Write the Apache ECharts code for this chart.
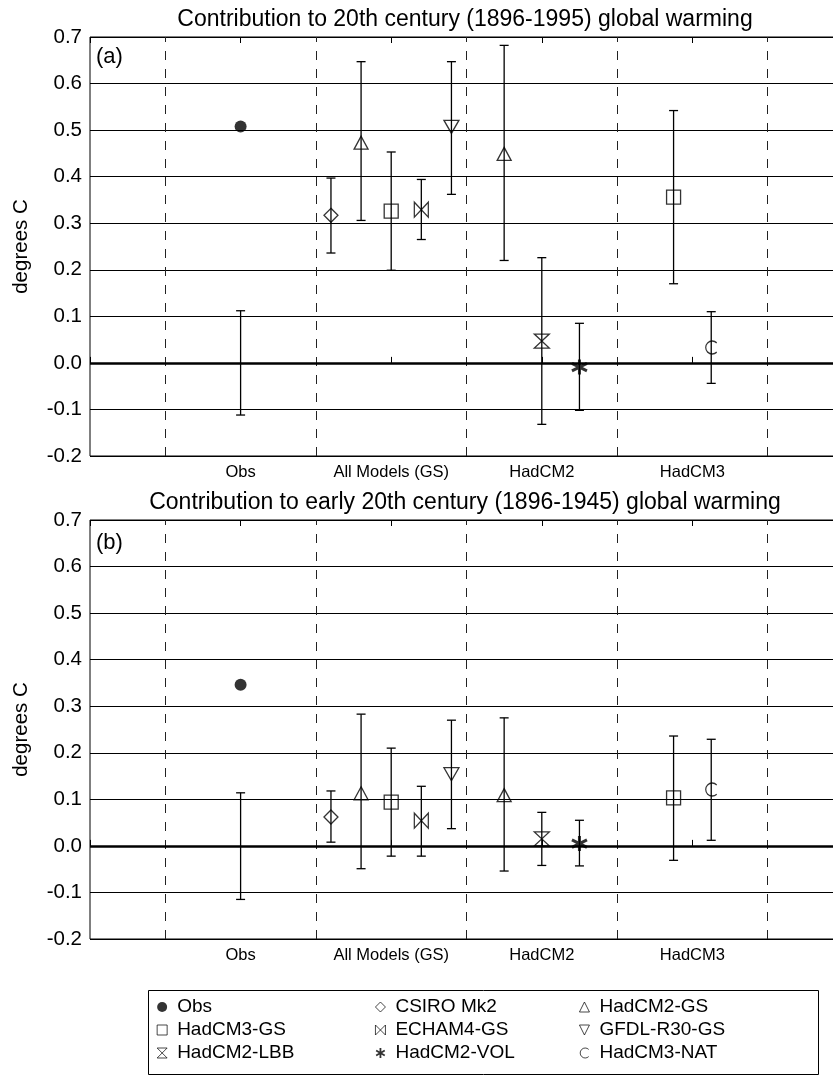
<!DOCTYPE html>
<html>
<head>
<meta charset="utf-8">
<script src="https://cdn.jsdelivr.net/npm/echarts@6.0.0/dist/echarts.min.js"></script>
<style>
    html, body { margin: 0; padding: 0; background: #fff; }
    #chart { width: 833px; height: 1080px; }
</style>
</head>
<body>
<div id="chart"></div>
<script>
// x axis runs 0..5, groups sit on the integers
const groupLabels = ['', 'Obs', 'All Models (GS)', 'HadCM2', 'HadCM3', '']
const dividerX = [0.5, 1.5, 2.5, 3.5, 4.5]
const yTicks = [-0.2, 0.7, 0.1]  // min, max, step

const modelNames = ['Obs', 'CSIRO Mk2', 'HadCM2-GS', 'HadCM3-GS', 'ECHAM4-GS',
    'GFDL-R30-GS', 'HadCM2-LBB', 'HadCM2-VOL', 'HadCM3-NAT']

// one entry per plotted point (marker + bar)
const pointModel = ['Obs', 'CSIRO Mk2', 'HadCM2-GS', 'HadCM3-GS', 'ECHAM4-GS', 'GFDL-R30-GS',
    'HadCM2-GS', 'HadCM2-LBB', 'HadCM2-VOL', 'HadCM3-GS', 'HadCM3-NAT']
const pointX = [1, 1.6, 1.8, 2.0, 2.2, 2.4, 2.75, 3.0, 3.25, 3.875, 4.125]

// (a) 1896-1995
const bestA = [0.508, 0.317, 0.473, 0.326, 0.329, 0.507, 0.449, 0.047, -0.009, 0.356, 0.033]
const lowA = [-0.112, 0.236, 0.306, 0.199, 0.265, 0.362, 0.220, -0.132, -0.102, 0.170, -0.044]
const highA = [0.112, 0.397, 0.647, 0.453, 0.394, 0.647, 0.682, 0.226, 0.085, 0.542, 0.110]

// (b) 1896-1945
const bestB = [0.346, 0.062, 0.113, 0.094, 0.054, 0.154, 0.109, 0.015, 0.005, 0.103, 0.121]
const lowB = [-0.115, 0.008, -0.049, -0.022, -0.022, 0.037, -0.054, -0.042, -0.043, -0.031, 0.012]
const highB = [0.114, 0.118, 0.283, 0.210, 0.128, 0.270, 0.275, 0.072, 0.055, 0.236, 0.229]

const titles = ['Contribution to 20th century (1896-1995) global warming',
    'Contribution to early 20th century (1896-1945) global warming']
const panelTags = ['(a)', '(b)']

const fontFamily = '"Liberation Sans", Arial, Helvetica, sans-serif'

// marker look for each model
const markerShape = {
    'Obs': 'circle',
    'CSIRO Mk2': 'path://M 50 0 L 100 50 L 50 100 L 0 50 Z',
    'HadCM2-GS': 'path://M 50 0 L 100 100 L 0 100 Z',
    'HadCM3-GS': 'path://M 0 0 L 100 0 L 100 100 L 0 100 Z',
    'ECHAM4-GS': 'path://M 0 0 L 0 100 L 100 0 L 100 100 Z',
    'GFDL-R30-GS': 'path://M 0 0 L 100 0 L 50 100 Z',
    'HadCM2-LBB': 'path://M 0 0 L 100 0 L 0 100 L 100 100 Z',
    'HadCM2-VOL': 'path://M 50 0 L 50 100 M 7 25 L 93 75 M 7 75 L 93 25',
    'HadCM3-NAT': 'path://M 82 18 A 45 45 0 1 0 82 82'
}
const markerSize = {
    'Obs': 12, 'CSIRO Mk2': [14, 14], 'HadCM2-GS': [14, 13], 'HadCM3-GS': [14, 14],
    'ECHAM4-GS': [14, 15], 'GFDL-R30-GS': [15, 13], 'HadCM2-LBB': [15, 14],
    'HadCM2-VOL': [15, 15], 'HadCM3-NAT': [11, 13]
}

const panels = [
    { top: 37, best: bestA, low: lowA, high: highA },
    { top: 520, best: bestB, low: lowB, high: highB }
]
const plotHeight = 419

let chart = echarts.init(document.getElementById('chart'))

function renderBar(params, api) {
    let x = api.value(0)
    let top = api.coord([x, api.value(2)])
    let bot = api.coord([x, api.value(1)])
    let style = { stroke: '#000', lineWidth: 1.3, fill: null }
    return {
        type: 'group',
        children: [
            { type: 'line', shape: { x1: top[0], y1: top[1], x2: bot[0], y2: bot[1] }, style: style },
            { type: 'line', shape: { x1: top[0] - 4.5, y1: top[1], x2: top[0] + 4.5, y2: top[1] }, style: style },
            { type: 'line', shape: { x1: bot[0] - 4.5, y1: bot[1], x2: bot[0] + 4.5, y2: bot[1] }, style: style }
        ]
    }
}

let grids = [], xAxes = [], yAxes = [], series = []
panels.forEach((p, k) => {
    grids.push({
        left: 90, right: -10, top: p.top, height: plotHeight,
        show: true, borderColor: '#000', borderWidth: 1,
        outerBoundsMode: 'none'
    })
    // bottom axis with the group names
    xAxes.push({
        gridIndex: k, type: 'value', min: 0, max: 5, interval: 1,
        axisLine: { show: false },
        axisTick: { show: true, inside: true, length: 6, lineStyle: { color: '#000' } },
        splitLine: { show: false },
        axisLabel: {
            color: '#000', fontSize: 16.5, fontFamily: fontFamily, margin: 8,
            formatter: v => groupLabels[Math.round(v)] || ''
        }
    })
    // top axis: ticks only
    xAxes.push({
        gridIndex: k, type: 'value', position: 'top', min: 0, max: 5, interval: 1,
        axisLine: { show: false },
        axisTick: { show: true, inside: true, length: 6, lineStyle: { color: '#000' } },
        splitLine: { show: false },
        axisLabel: { show: false }
    })
    yAxes.push({
        gridIndex: k, type: 'value', min: yTicks[0], max: yTicks[1], interval: yTicks[2],
        name: 'degrees C', nameLocation: 'middle', nameGap: 58, nameRotate: 90,
        nameTextStyle: { color: '#000', fontSize: 20.5, fontFamily: fontFamily },
        axisLine: { show: false },
        axisTick: { show: false },
        splitLine: { show: true, lineStyle: { color: '#000', width: 1 } },
        axisLabel: {
            color: '#000', fontSize: 20.5, fontFamily: fontFamily, margin: 8,
            formatter: v => v.toFixed(1)
        }
    })

    // dividers and the zero line
    series.push({
        type: 'scatter', name: 'guides' + k, xAxisIndex: 2 * k, yAxisIndex: k,
        data: [], silent: true, z: 1,
        markLine: {
            silent: true, symbol: 'none', label: { show: false },
            animation: false,
            data: dividerX.map(v => ({ xAxis: v, lineStyle: { type: [9, 9], width: 1, color: '#222' } }))
                .concat([{ yAxis: 0, lineStyle: { type: 'solid', width: 2.6, color: '#000' } }])
        }
    })

    // error bars
    series.push({
        type: 'custom', name: 'bars' + k, xAxisIndex: 2 * k, yAxisIndex: k,
        renderItem: renderBar, silent: true, z: 2,
        encode: { x: 0, y: [1, 2] },
        data: pointX.map((x, i) => [x, p.low[i], p.high[i]])
    })

    // markers, one series per model
    modelNames.forEach(name => {
        let pts = []
        pointModel.forEach((m, i) => {
            if (m === name) pts.push([pointX[i], p.best[i]])
        })
        let filled = name === 'Obs'
        series.push({
            type: 'scatter', name: name, xAxisIndex: 2 * k, yAxisIndex: k,
            symbol: markerShape[name], symbolSize: markerSize[name],
            z: 3, silent: true,
            itemStyle: {
                color: filled ? '#000' : 'rgba(0,0,0,0)',
                borderColor: '#000',
                borderWidth: name === 'HadCM2-VOL' ? 3 : (filled ? 0 : 1.3)
            },
            data: pts
        })
    })
})

let legendCols = [
    ['Obs', 'HadCM3-GS', 'HadCM2-LBB'],
    ['CSIRO Mk2', 'ECHAM4-GS', 'HadCM2-VOL'],
    ['HadCM2-GS', 'GFDL-R30-GS', 'HadCM3-NAT']
]
let legendLeft = [156.7, 375, 579]
let legends = legendCols.map((col, i) => ({
    data: col.map(n => ({
        name: n,
        itemStyle: { borderWidth: n === 'HadCM2-VOL' ? 1.8 : (n === 'Obs' ? 0 : 0.9) }
    })),
    orient: 'vertical', left: legendLeft[i], top: 997.5,
    itemWidth: 20, itemHeight: 10, itemGap: 4, padding: 0,
    selectedMode: false,
    textStyle: { color: '#000', fontSize: 19, lineHeight: 19, fontFamily: fontFamily }
}))

let graphics = []
titles.forEach((t, k) => {
    graphics.push({
        type: 'text', x: 465, y: k === 0 ? 20 : 503,
        style: {
            text: t, fill: '#000', font: '23px ' + fontFamily,
            align: 'center', verticalAlign: 'middle',
            textAlign: 'center', textVerticalAlign: 'middle'
        }
    })
    graphics.push({
        type: 'text', x: 96, y: k === 0 ? 57 : 543,
        style: {
            text: panelTags[k], fill: '#000', font: '22px ' + fontFamily,
            align: 'left', verticalAlign: 'middle',
            textAlign: 'left', textVerticalAlign: 'middle'
        }
    })
})
// legend frame
graphics.push({
    type: 'rect', shape: { x: 148.5, y: 990.5, width: 670, height: 84 },
    style: { fill: 'none', stroke: '#000', lineWidth: 1 }
})

let option = {
    backgroundColor: '#fff',
    animation: false,
    grid: grids,
    xAxis: xAxes,
    yAxis: yAxes,
    legend: legends,
    graphic: graphics,
    series: series
}
chart.setOption(option)
window.addEventListener('resize', function () {
    chart.resize()
})
</script>
</body>
</html>
